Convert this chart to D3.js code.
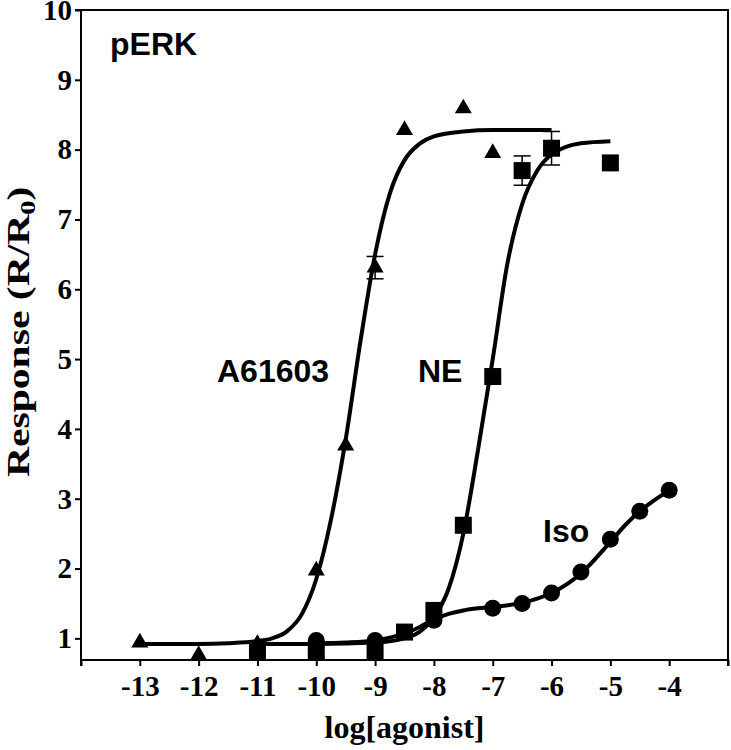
<!DOCTYPE html>
<html lang="en">
	<head>
		<meta charset="utf-8">
		<title>D3: pERK concentration-response</title>
		<script type="text/javascript" src="https://d3js.org/d3.v7.min.js"></script>
		<style>
			body { margin: 0; background: #fff; }
		</style>
	</head>
	<body>
		<script type="text/javascript">

			//Width and height
			var w = 731;
			var h = 750;
			var margin = {top: 10, right: 3, bottom: 90, left: 81};

			//Measured points (log molar concentration, response R/R0)
			var xA61603 = [-13, -12, -11, -10, -9.5, -9, -8.5, -7.5, -7];
			var yA61603 = [0.94, 0.76, 0.92, 1.97, 3.76, 6.31, 8.28, 8.59, 7.95];
			var errA61603 = [0, 0, 0, 0, 0, 0.16, 0, 0, 0];

			var xNE = [-11, -10, -9, -8.5, -8, -7.5, -7, -6.5, -6, -5];
			var yNE = [0.80, 0.80, 0.81, 1.09, 1.40, 2.62, 4.75, 7.70, 8.02, 7.81];
			var errNE = [0, 0, 0, 0, 0, 0, 0, 0.21, 0.24, 0];

			var xIso = [-10, -9, -8, -7, -6.5, -6, -5.5, -5, -4.5, -4];
			var yIso = [0.97, 0.97, 1.26, 1.43, 1.50, 1.65, 1.95, 2.42, 2.82, 3.12];

			//Fitted curves
			var curveXA61603 = [-13, -12, -11.5, -11, -10.75, -10.5, -10.25, -10, -9.75, -9.5, -9.25, -9, -8.75, -8.5, -8.25, -8, -7.5, -7, -6];
			var curveYA61603 = [0.92, 0.92, 0.93, 0.96, 1.00, 1.10, 1.34, 1.85, 2.70, 3.85, 5.25, 6.50, 7.37, 7.85, 8.08, 8.19, 8.26, 8.28, 8.28];

			var curveXNE = [-11, -10, -9, -8.5, -8.25, -8, -7.75, -7.5, -7.25, -7, -6.75, -6.5, -6.25, -6, -5.5, -5];
			var curveYNE = [0.92, 0.92, 0.94, 1.00, 1.09, 1.30, 1.71, 2.50, 3.70, 5.00, 6.37, 7.22, 7.69, 7.93, 8.09, 8.12];

			var curveXIso = [-10, -9.5, -9, -8.75, -8.5, -8.25, -8, -7.75, -7.5, -7.25, -7, -6.5, -6, -5.5, -5, -4.75, -4.5, -4.25, -4];
			var curveYIso = [0.93, 0.94, 0.97, 1.01, 1.07, 1.16, 1.27, 1.35, 1.40, 1.43, 1.45, 1.51, 1.65, 1.93, 2.38, 2.62, 2.82, 2.98, 3.12];

			//Axis ticks
			var xTicks = [-14, -13, -12, -11, -10, -9, -8, -7, -6, -5, -4, -3];
			var xTickLabels = ["", "-13", "-12", "-11", "-10", "-9", "-8", "-7", "-6", "-5", "-4", ""];
			var yTicks = [1, 2, 3, 4, 5, 6, 7, 8, 9, 10];

			//Scales
			var x = d3.scaleLinear().domain([-14, -3]).range([margin.left, w - margin.right]);
			var y = d3.scaleLinear().domain([0.69, 10]).range([h - margin.bottom, margin.top]);

			//Create SVG element
			var svg = d3.select("body")
						.append("svg")
						.attr("width", w)
						.attr("height", h);

			var serif = "'Liberation Serif', 'Times New Roman', serif";
			var sans = "'Liberation Sans', Arial, sans-serif";

			//Frame (top and right)
			svg.append("path")
			   .attr("d", "M" + x(-14) + "," + y(10) + "H" + x(-3) + "V" + y(0.69))
			   .attr("fill", "none")
			   .attr("stroke", "black")
			   .attr("stroke-width", 2);

			//X axis
			var xAxis = svg.append("g")
				.attr("transform", "translate(0," + (h - margin.bottom) + ")")
				.call(d3.axisBottom(x).tickValues(xTicks)
					.tickFormat(function(d, i) { return xTickLabels[i]; })
					.tickSize(6).tickPadding(9));

			//Y axis
			var yAxis = svg.append("g")
				.attr("transform", "translate(" + margin.left + ",0)")
				.call(d3.axisLeft(y).tickValues(yTicks).tickFormat(d3.format("d"))
					.tickSize(6).tickPadding(3));

			[xAxis, yAxis].forEach(function(g) {
				g.select(".domain").attr("stroke-width", 2);
				g.selectAll(".tick line").attr("stroke-width", 2);
				g.selectAll(".tick text")
				 .attr("font-family", serif)
				 .attr("font-weight", "bold")
				 .attr("font-size", 29)
				 .attr("fill", "black");
			});
			xAxis.select(".domain").attr("d", "M" + x(-14) + ",6V0H" + x(-3) + "V6");
			yAxis.select(".domain").attr("d", "M-6," + y(10) + "H0V" + y(0.69));

			//Fitted curves
			var line = d3.line()
				.x(function(d) { return x(d[0]); })
				.y(function(d) { return y(d[1]); })
				.curve(d3.curveMonotoneX);

			[[curveXA61603, curveYA61603], [curveXNE, curveYNE], [curveXIso, curveYIso]].forEach(function(c) {
				svg.append("path")
				   .datum(d3.zip(c[0], c[1]))
				   .attr("d", line)
				   .attr("fill", "none")
				   .attr("stroke", "black")
				   .attr("stroke-width", 4);
			});

			//Error bars
			function errorBars(xs, ys, es) {
				var pts = d3.zip(xs, ys, es).filter(function(d) { return d[2] > 0; });
				var g = svg.append("g").attr("stroke", "black").attr("stroke-width", 1.5);
				pts.forEach(function(d) {
					var cx = x(d[0]);
					g.append("line").attr("x1", cx).attr("x2", cx)
					 .attr("y1", y(d[1] - d[2])).attr("y2", y(d[1] + d[2]));
					[d[1] - d[2], d[1] + d[2]].forEach(function(v) {
						g.append("line").attr("x1", cx - 8.5).attr("x2", cx + 8.5)
						 .attr("y1", y(v)).attr("y2", y(v));
					});
				});
			}
			errorBars(xA61603, yA61603, errA61603);
			errorBars(xNE, yNE, errNE);

			//Symbols
			function points(xs, ys, type, size) {
				svg.append("g").selectAll("path")
				   .data(d3.zip(xs, ys))
				   .enter()
				   .append("path")
				   .attr("transform", function(d) { return "translate(" + x(d[0]) + "," + y(d[1]) + ")"; })
				   .attr("d", d3.symbol().type(type).size(size))
				   .attr("fill", "black");
			}
			points(xA61603, yA61603, d3.symbolTriangle, 125);
			points(xNE, yNE, d3.symbolSquare, 289);
			points(xIso, yIso, d3.symbolCircle, 227);

			//Curve labels
			var labels = [["pERK", 110, 55], ["A61603", 217, 382], ["NE", 418, 382], ["Iso", 543, 542]];
			svg.selectAll("text.lbl")
			   .data(labels)
			   .enter()
			   .append("text")
			   .attr("class", "lbl")
			   .attr("x", function(d) { return d[1]; })
			   .attr("y", function(d) { return d[2]; })
			   .attr("font-family", sans)
			   .attr("font-weight", "bold")
			   .attr("font-size", 32)
			   .text(function(d) { return d[0]; });

			//Axis titles
			svg.append("text")
			   .attr("x", (margin.left + w - margin.right) / 2)
			   .attr("y", 738)
			   .attr("text-anchor", "middle")
			   .attr("font-family", serif)
			   .attr("font-weight", "bold")
			   .attr("font-size", 32)
			   .text("log[agonist]");

			var yt = svg.append("text")
			   .attr("transform", "translate(29,477) rotate(-90) scale(1.3,1)")
			   .attr("font-family", serif)
			   .attr("font-weight", "bold")
			   .attr("font-size", 32);
			yt.append("tspan").text("Response (R/R");
			yt.append("tspan").attr("font-size", 22).attr("dy", 6).text("0");
			yt.append("tspan").attr("dy", -6).text(")");

		</script>
	</body>
</html>
